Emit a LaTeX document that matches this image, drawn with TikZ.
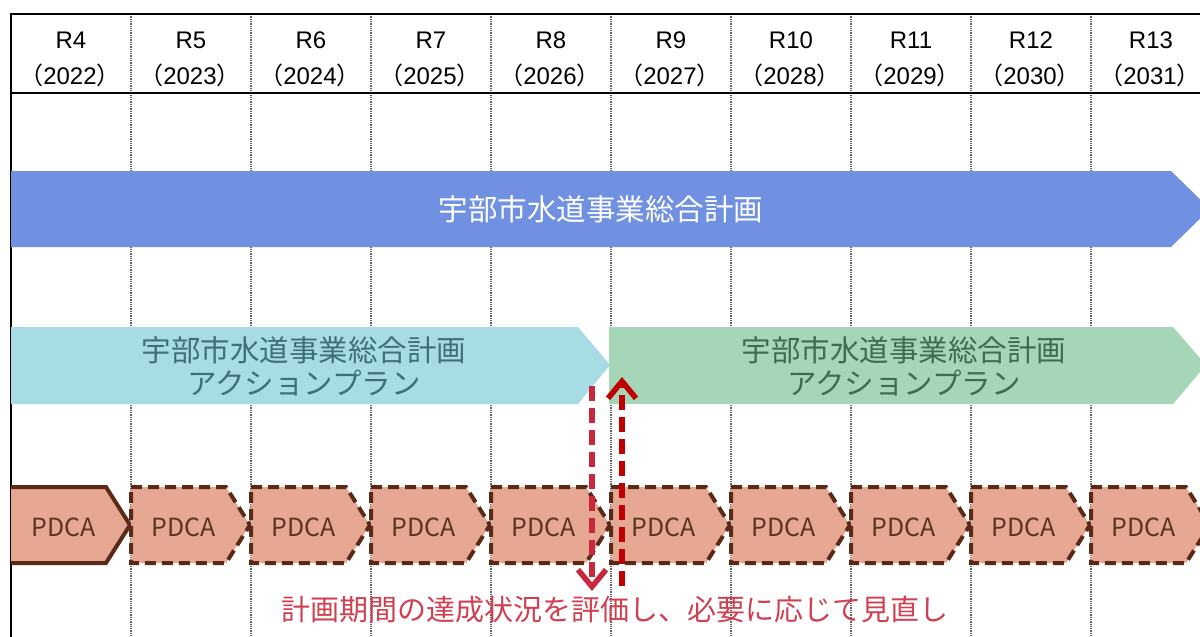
\documentclass[tikz,border=0pt]{standalone}
\usepackage{fontspec}
\setmainfont{Noto Sans CJK JP}
\newfontfamily\latinhdr{Liberation Sans}
\usetikzlibrary{arrows.meta}
\definecolor{planblue}{HTML}{7091E1}
\definecolor{plancyan}{HTML}{A7DCE5}
\definecolor{plangreen}{HTML}{A5D6B7}
\definecolor{cyantext}{HTML}{3F6F79}
\definecolor{greentext}{HTML}{3E6C50}
\definecolor{pdcafill}{HTML}{E6A893}
\definecolor{pdcaline}{HTML}{5B2A16}
\definecolor{pdcatext}{HTML}{5C3424}
\definecolor{reddown}{HTML}{C8283C}
\definecolor{redup}{HTML}{C00000}
\definecolor{notetext}{HTML}{D04050}
\tikzset{
  hdr/.style={font=\fontsize{24}{28}\selectfont, text=black, inner sep=0pt},
  grid line/.style={gray!75!black, line width=1.3pt, densely dotted},
  frame line/.style={black, line width=2.5pt},
  bar text/.style={font=\fontsize{29.5}{33}\selectfont, align=center, inner sep=0pt},
  pdcabox/.style={fill=pdcafill, draw=pdcaline, line width=4pt, line join=miter},
  pdcadash/.style={pdcabox, dash pattern=on 11pt off 6pt},
  pdcalabel/.style={font=\fontsize{25}{28}\selectfont, text=pdcatext, inner sep=0pt},
  review/.style={line width=5.5pt, dash pattern=on 15pt off 7pt, -{Straight Barb[length=17pt,width=28pt,line width=5.5pt]}},
}
\begin{document}
\begin{tikzpicture}[x=1pt,y=-1pt]
\useasboundingbox (0,0) rectangle (1200,637);
% grid lines
\foreach \i in {1,...,9}{
  \draw[grid line] (11+120*\i,14) -- (11+120*\i,637);
}
% frame
\draw[frame line] (11,14) -- (1200,14);
\draw[frame line] (11,93) -- (1200,93);
\draw[frame line] (11,12.75) -- (11,637);
% header
\foreach \r/\y [count=\k from 0] in {4/2022,5/2023,6/2024,7/2025,8/2026,9/2027,10/2028,11/2029,12/2030,13/2031}{
  \node[hdr] (r\r) at (71+120*\k,40) {\latinhdr R\r};
  \node[hdr] (y\y) at (70+120*\k,75) {（{\latinhdr\y}）};
}
% main plan arrow
\fill[planblue] (11,171) -- (1171,171) -- (1210,209) -- (1171,247) -- (11,247) -- cycle;
\node[bar text, text=white] (plan) at (601,209) {宇部市水道事業総合計画};
% action plans
\fill[plancyan] (11,327) -- (578,327) -- (610,365) -- (578,404) -- (11,404) -- cycle;
\node[bar text, text=cyantext] (ap1) at (304,366) {宇部市水道事業総合計画\\アクションプラン};
\fill[plangreen] (609,327) -- (1173,327) -- (1206,365) -- (1173,404) -- (609,404) -- cycle;
\node[bar text, text=greentext] (ap2) at (904,366) {宇部市水道事業総合計画\\アクションプラン};
% PDCA
\draw[pdcabox] (11,487) -- (106,487) -- (130,525) -- (106,563) -- (11,563);
\node[pdcalabel] (p0) at (64,527) {PDCA};
\foreach \i in {1,...,9}{
  \pgfmathsetmacro{\L}{11+120*\i}
  \draw[pdcadash] (\L,487) -- (\L+95,487) -- (\L+119,525) -- (\L+95,563) -- (\L,563) -- cycle;
  \node[pdcalabel] (p\i) at (\L+53,527) {PDCA};
}
% review arrows
\coordinate (dstart) at (592,386);
\coordinate (dend) at (592,591);
\coordinate (ustart) at (622,586);
\coordinate (uend) at (622,377);
\draw[review, reddown] (dstart) -- (dend);
\draw[review, redup] (ustart) -- (uend);
\node[font=\fontsize{29}{32}\selectfont, text=notetext, inner sep=0pt] (note) at (615,610) {計画期間の達成状況を評価し、必要に応じて見直し};
\end{tikzpicture}
\end{document}
